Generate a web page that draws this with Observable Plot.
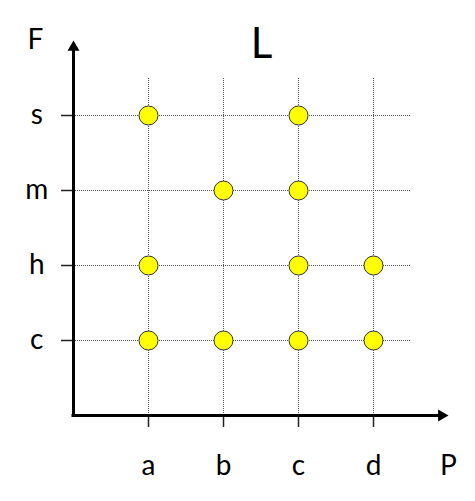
<!DOCTYPE html>
<html>
<head>
<meta charset="utf-8">
<script src="https://cdn.jsdelivr.net/npm/d3@7"></script>
<script src="https://cdn.jsdelivr.net/npm/@observablehq/plot@0.6"></script>
<style>
  html, body { margin: 0; padding: 0; background: #fff; }
  #chart svg { display: block; }
</style>
</head>
<body>
<div id="chart"></div>
<script>
// Category labels
const xCats = ["a", "b", "c", "d"];
const yCats = ["c", "h", "m", "s"];
const xName = "P";
const yName = "F";
const title = "L";

// Points (P category, F category)
const pointP = ["a", "c", "b", "c", "a", "c", "d", "a", "b", "c", "d"];
const pointF = ["s", "s", "m", "m", "h", "h", "h", "c", "c", "c", "c"];

const xi = c => xCats.indexOf(c) + 1;
const yi = c => yCats.indexOf(c) + 1;
const points = pointP.map((p, i) => ({x: xi(p), y: yi(pointF[i])}));
const xTicks = xCats.map((c, i) => ({v: i + 1, label: c}));
const yTicks = yCats.map((c, i) => ({v: i + 1, label: c}));

const font = "Lato, 'Open Sans', sans-serif";
const grid = "#555";

const chart = Plot.plot({
  width: 475,
  height: 501,
  marginLeft: 73,
  marginRight: 27,
  marginTop: 40,
  marginBottom: 86,
  style: {fontFamily: font, background: "#fff", overflow: "visible"},
  x: {domain: [0, 5], axis: null},
  y: {domain: [0, 5], axis: null},
  marks: [
    // dotted grid
    Plot.ruleY(yTicks, {y: "v", x1: 0, x2: 4.5, stroke: grid, strokeWidth: 1, strokeDasharray: "1,1"}),
    Plot.ruleX(xTicks, {x: "v", y1: 0, y2: 4.5, stroke: grid, strokeWidth: 1, strokeDasharray: "1,1"}),
    // tick marks
    Plot.ruleX(xTicks, {x: "v", y1: 0, y2: -0.16, stroke: "#222", strokeWidth: 1.5}),
    Plot.ruleY(yTicks, {y: "v", x1: 0, x2: -0.16, stroke: "#222", strokeWidth: 1.5}),
    // axes
    Plot.ruleX([0], {y1: 0, y2: 4.9, stroke: "#000", strokeWidth: 3, strokeLinecap: "square"}),
    Plot.ruleY([0], {x1: 0, x2: 4.9, stroke: "#000", strokeWidth: 3, strokeLinecap: "square"}),
    Plot.dot([0], {x: 0, y: 4.908, symbol: "triangle", r: 4.45, fill: "#000", stroke: "none"}),
    Plot.dot([0], {x: 4.908, y: 0, symbol: "triangle", r: 4.45, fill: "#000", stroke: "none", rotate: 90}),
    // tick labels
    Plot.text(xTicks, {x: "v", y: -0.68, text: "label", fontSize: 28, fill: "#000"}),
    Plot.text(yTicks, {y: "v", x: -0.49, text: "label", fontSize: 28, fill: "#000"}),
    // axis names
    Plot.text([xName], {x: 5.0, y: -0.68, text: d => d, fontSize: 28, fill: "#000"}),
    Plot.text([yName], {x: -0.507, y: 5.01, text: d => d, fontSize: 28, fill: "#000"}),
    // title
    Plot.text([title], {x: 2.507, y: 4.94, text: d => d, fontSize: 42, fill: "#000"}),
    // points
    Plot.dot(points, {x: "x", y: "y", r: 9.5, fill: "#ffff00", stroke: "#333", strokeWidth: 1})
  ]
});
document.getElementById("chart").appendChild(chart);
</script>
</body>
</html>
